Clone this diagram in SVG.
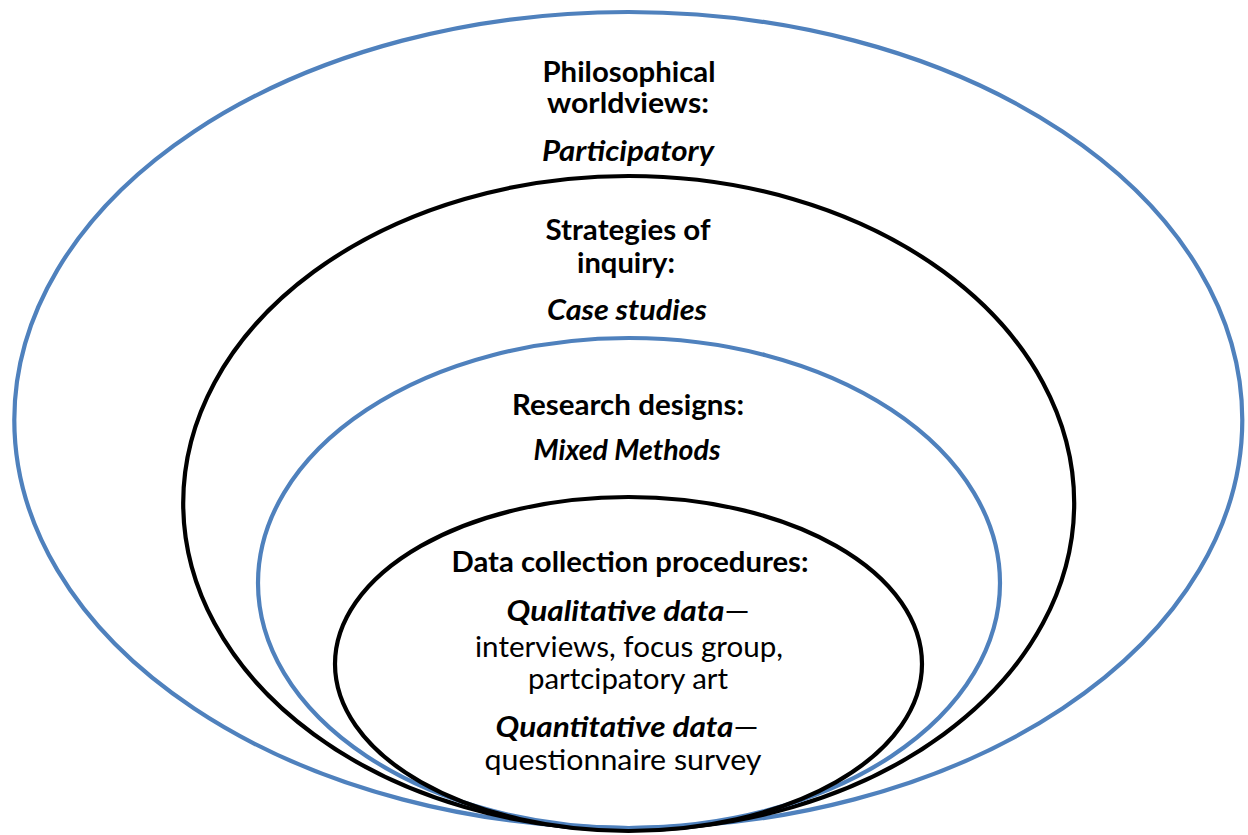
<svg xmlns="http://www.w3.org/2000/svg" width="1248" height="835" viewBox="0 0 1248 835">
<style>
.blue{fill:none;stroke:#4F81BD;stroke-width:4.2}
.black{fill:none;stroke:#000;stroke-width:4.2}
text{font-family:Lato,"Open Sans","Liberation Sans",sans-serif;font-size:28px;fill:#000;text-anchor:middle}
.b{font-weight:bold}
.bi{font-weight:bold;font-style:italic}
.r{font-weight:normal;font-style:normal}
</style>
<rect width="1248" height="835" fill="#fff"/>
<g id="worldviews">
<ellipse class="blue" cx="628.3" cy="420" rx="614" ry="408"/>
<text class="b" x="629" y="82" textLength="173" lengthAdjust="spacingAndGlyphs">Philosophical</text>
<text class="b" x="628" y="113" textLength="162" lengthAdjust="spacingAndGlyphs">worldviews:</text>
<text class="bi" x="628" y="161" textLength="172" lengthAdjust="spacingAndGlyphs">Participatory</text>
</g>
<g id="strategies">
<ellipse class="black" cx="628.7" cy="503" rx="445.5" ry="327"/>
<text class="b" x="628" y="240" textLength="165" lengthAdjust="spacingAndGlyphs">Strategies of</text>
<text class="b" x="626" y="273" textLength="98" lengthAdjust="spacingAndGlyphs">inquiry:</text>
<text class="bi" x="627" y="320" textLength="160" lengthAdjust="spacingAndGlyphs">Case studies</text>
</g>
<g id="designs">
<ellipse class="blue" cx="629" cy="583" rx="371" ry="245"/>
<text class="b" x="628" y="415" textLength="232" lengthAdjust="spacingAndGlyphs">Research designs:</text>
<text class="bi" x="627" y="460" textLength="187" lengthAdjust="spacingAndGlyphs">Mixed Methods</text>
</g>
<g id="procedures">
<ellipse class="black" cx="628.5" cy="664" rx="293.5" ry="167"/>
<text class="b" x="630" y="572" textLength="357" lengthAdjust="spacingAndGlyphs">Data collection procedures:</text>
<text x="628" y="621" textLength="243" lengthAdjust="spacingAndGlyphs"><tspan class="bi">Qualitative data</tspan><tspan class="r">—</tspan></text>
<text x="629" y="657" textLength="308" lengthAdjust="spacingAndGlyphs">interviews, focus group,</text>
<text x="628" y="689" textLength="200" lengthAdjust="spacingAndGlyphs">partcipatory art</text>
<text x="627" y="737" textLength="263" lengthAdjust="spacingAndGlyphs"><tspan class="bi">Quantitative data</tspan><tspan class="r">—</tspan></text>
<text x="623" y="770" textLength="277" lengthAdjust="spacingAndGlyphs">questionnaire survey</text>
</g>
<g id="connectors"/>
</svg>
